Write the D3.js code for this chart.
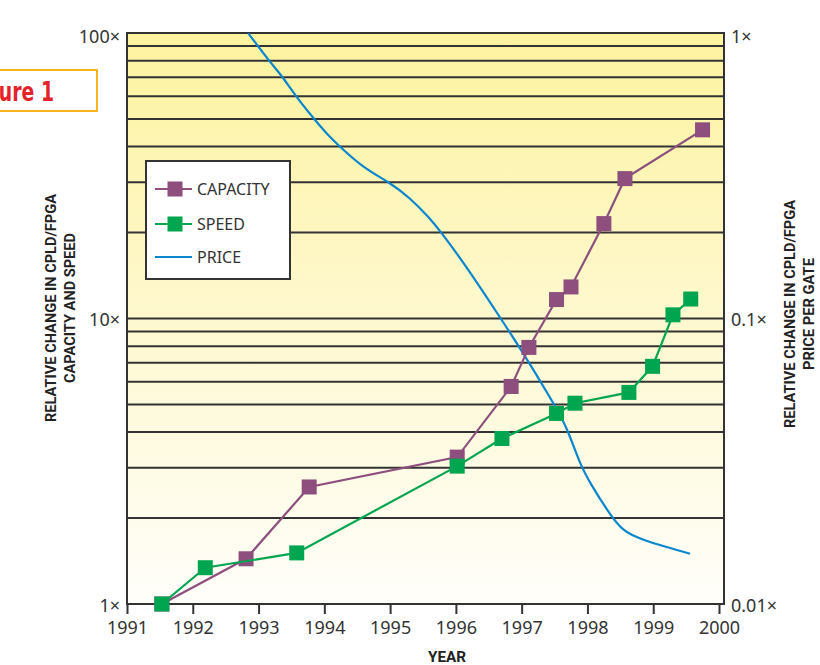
<!DOCTYPE html>
<html>
<head>
<meta charset="utf-8">
<script src="https://cdn.jsdelivr.net/npm/d3@7"></script>
<style>
  body { margin: 0; background: #fff; }
  svg text { font-family: "Noto Sans", "Open Sans", sans-serif; fill: #333; }
  .title { font-family: Roboto, "Liberation Sans", sans-serif !important; font-weight: bold; fill: #222 !important; }
</style>
</head>
<body>
<div id="chart"></div>
<script>
var W = 820, H = 665;

// data
var capYears = [1991.53, 1992.81, 1993.77, 1996.02, 1996.84, 1997.11, 1997.53, 1997.75, 1998.25, 1998.57, 1999.75];
var capVals  = [1, 1.44, 2.57, 3.27, 5.78, 7.92, 11.65, 12.9, 21.5, 30.9, 45.8];
var spdYears = [1991.53, 1992.19, 1993.58, 1996.02, 1996.70, 1997.53, 1997.81, 1998.63, 1998.99, 1999.30, 1999.57];
var spdVals  = [1, 1.34, 1.51, 3.04, 3.80, 4.65, 5.05, 5.51, 6.8, 10.3, 11.7];
var priceYears = [1992.84, 1993.16, 1993.36, 1993.55, 1993.83, 1994.04, 1994.19, 1994.59, 1995.0, 1995.30, 1995.59,
                  1995.76, 1996.17, 1996.67, 1996.97, 1997.46, 1997.69, 1997.88, 1998.04, 1998.37, 1998.54, 1998.77, 1999.56];
var priceVals  = [1.0, 0.798, 0.706, 0.607, 0.504, 0.443, 0.409, 0.337, 0.299, 0.265, 0.226,
                  0.203, 0.151, 0.101, 0.0792, 0.0517, 0.0416, 0.0311, 0.0265, 0.0201, 0.0181, 0.0169, 0.0150];
var yearTicks = [1991, 1992, 1993, 1994, 1995, 1996, 1997, 1998, 1999, 2000];
var leftTicks = [1, 10, 100];
var rightTicks = [0.01, 0.1, 1];
var leftLabels = ["1\u00d7", "10\u00d7", "100\u00d7"];
var rightLabels = ["0.01\u00d7", "0.1\u00d7", "1\u00d7"];

var capColor = "#8e4f7f", spdColor = "#00a550", priceColor = "#0a86cf";

var pLeft = 127, pRight = 724, pTop = 33, pBottom = 604;

var x = d3.scaleLinear().domain([1991, 2000]).range([127, 719]);
var yL = d3.scaleLog().domain([1, 100]).range([pBottom, pTop]);
var yR = d3.scaleLog().domain([0.01, 1]).range([pBottom, pTop]);

var svg = d3.select("#chart").append("svg")
    .attr("width", W).attr("height", H);

var defs = svg.append("defs");
var grad = defs.append("linearGradient").attr("id", "bg")
    .attr("x1", 0).attr("y1", 0).attr("x2", 0).attr("y2", 1);
grad.append("stop").attr("offset", "0%").attr("stop-color", "#fdf39f");
grad.append("stop").attr("offset", "50%").attr("stop-color", "#fef8cf");
grad.append("stop").attr("offset", "100%").attr("stop-color", "#fffefa");
defs.append("clipPath").attr("id", "plotclip").append("rect")
    .attr("x", pLeft).attr("y", pTop).attr("width", pRight - pLeft).attr("height", pBottom - pTop);

// figure label box (cut off at left edge)
svg.append("rect")
    .attr("x", -20).attr("y", 70).attr("width", 117).attr("height", 41)
    .attr("fill", "#fff").attr("stroke", "#f6b31c").attr("stroke-width", 2);
svg.append("text")
    .attr("x", 54).attr("y", 101)
    .attr("text-anchor", "end")
    .attr("textLength", 88).attr("lengthAdjust", "spacingAndGlyphs")
    .style("font-family", "'DejaVu Sans', sans-serif")
    .style("font-weight", "bold")
    .style("font-size", "26px")
    .style("fill", "#e42229")
    .text("Figure 1");

// plot background
svg.append("rect")
    .attr("x", pLeft).attr("y", pTop).attr("width", pRight - pLeft).attr("height", pBottom - pTop)
    .attr("fill", "url(#bg)");

// horizontal grid lines
svg.append("g").selectAll("line")
    .data(yL.ticks())
    .enter().append("line")
    .attr("x1", pLeft).attr("x2", pRight)
    .attr("y1", function(d) { return yL(d); })
    .attr("y2", function(d) { return yL(d); })
    .attr("stroke", "#333")
    .attr("stroke-width", 2);

// frame
svg.append("rect")
    .attr("x", pLeft).attr("y", pTop).attr("width", pRight - pLeft).attr("height", pBottom - pTop)
    .attr("fill", "none").attr("stroke", "#333").attr("stroke-width", 2);

// x axis
var xAxis = d3.axisBottom(x).tickValues(yearTicks).tickFormat(d3.format("d")).tickSize(10).tickPadding(7);
var gx = svg.append("g")
    .attr("transform", "translate(0," + pBottom + ")")
    .call(xAxis);
gx.select(".domain").remove();
gx.selectAll(".tick line").attr("stroke", "#333").attr("stroke-width", 2);
gx.selectAll(".tick text").style("font-size", "18px").style("fill", "#333");

// left axis labels
var yAxisL = d3.axisLeft(yL).tickValues(leftTicks)
    .tickFormat(function(d, i) { return leftLabels[i]; }).tickSize(0).tickPadding(7);
var gl = svg.append("g").attr("transform", "translate(" + pLeft + ",0)").call(yAxisL);
gl.select(".domain").remove();
gl.selectAll(".tick text").style("font-size", "18px").style("fill", "#333")
    .attr("dy", function(d) { return d === 100 ? "0.55em" : "0.4em"; });

// right axis labels
var yAxisR = d3.axisRight(yR).tickValues(rightTicks)
    .tickFormat(function(d, i) { return rightLabels[i]; }).tickSize(0).tickPadding(7);
var gr = svg.append("g").attr("transform", "translate(" + pRight + ",0)").call(yAxisR);
gr.select(".domain").remove();
gr.selectAll(".tick text").style("font-size", "18px").style("fill", "#333")
    .attr("dy", function(d) { return d === 1 ? "0.55em" : "0.4em"; });

// axis titles
svg.append("text").attr("class", "title")
    .attr("x", 447).attr("y", 662).attr("text-anchor", "middle")
    .attr("textLength", 38).attr("lengthAdjust", "spacingAndGlyphs")
    .style("font-size", "15px").text("YEAR");

var lt = svg.append("text").attr("class", "title")
    .attr("transform", "translate(0,308) rotate(-90)")
    .attr("text-anchor", "middle").style("font-size", "15px");
lt.append("tspan").attr("x", 0).attr("y", 56)
    .attr("textLength", 228).attr("lengthAdjust", "spacingAndGlyphs")
    .text("RELATIVE CHANGE IN CPLD/FPGA");
lt.append("tspan").attr("x", 0).attr("y", 75)
    .attr("textLength", 150).attr("lengthAdjust", "spacingAndGlyphs")
    .text("CAPACITY AND SPEED");

var rt = svg.append("text").attr("class", "title")
    .attr("transform", "translate(0,314) rotate(-90)")
    .attr("text-anchor", "middle").style("font-size", "15px");
rt.append("tspan").attr("x", 0).attr("y", 795)
    .attr("textLength", 228).attr("lengthAdjust", "spacingAndGlyphs")
    .text("RELATIVE CHANGE IN CPLD/FPGA");
rt.append("tspan").attr("x", 0).attr("y", 814)
    .attr("textLength", 112).attr("lengthAdjust", "spacingAndGlyphs")
    .text("PRICE PER GATE");

// series
var plot = svg.append("g").attr("clip-path", "url(#plotclip)");

var cap = capYears.map(function(d, i) { return [d, capVals[i]]; });
var spd = spdYears.map(function(d, i) { return [d, spdVals[i]]; });
var price = priceYears.map(function(d, i) { return [d, priceVals[i]]; });

var lineL = d3.line().x(function(d) { return x(d[0]); }).y(function(d) { return yL(d[1]); });
var lineR = d3.line().curve(d3.curveBasis)
    .x(function(d) { return x(d[0]); }).y(function(d) { return yR(d[1]); });

plot.append("path").datum(price)
    .attr("d", lineR).attr("fill", "none")
    .attr("stroke", priceColor).attr("stroke-width", 2.2);

var sq = 15;
function drawSeries(data, color) {
  svg.append("path").datum(data)
      .attr("d", lineL).attr("fill", "none")
      .attr("stroke", color).attr("stroke-width", 2.2);
  svg.append("g").selectAll("rect")
      .data(data).enter().append("rect")
      .attr("x", function(d) { return x(d[0]) - sq / 2; })
      .attr("y", function(d) { return yL(d[1]) - sq / 2; })
      .attr("width", sq).attr("height", sq)
      .attr("fill", color);
}
drawSeries(cap, capColor);
drawSeries(spd, spdColor);

// legend
var lg = svg.append("g").attr("transform", "translate(146,161)");
lg.append("rect").attr("width", 144).attr("height", 118)
    .attr("fill", "#fff").attr("stroke", "#333").attr("stroke-width", 2);
var items = [
  { name: "CAPACITY", color: capColor, marker: true, y: 28 },
  { name: "SPEED", color: spdColor, marker: true, y: 63 },
  { name: "PRICE", color: priceColor, marker: false, y: 96 }
];
items.forEach(function(it) {
  lg.append("line").attr("x1", 9).attr("x2", 46).attr("y1", it.y).attr("y2", it.y)
      .attr("stroke", it.color).attr("stroke-width", 2.2);
  if (it.marker) {
    lg.append("rect").attr("x", 29 - sq / 2).attr("y", it.y - sq / 2)
        .attr("width", sq).attr("height", sq).attr("fill", it.color);
  }
  lg.append("text").attr("x", 51).attr("y", it.y + 6)
      .style("font-size", "16px").style("fill", "#333").text(it.name);
});
</script>
</body>
</html>
